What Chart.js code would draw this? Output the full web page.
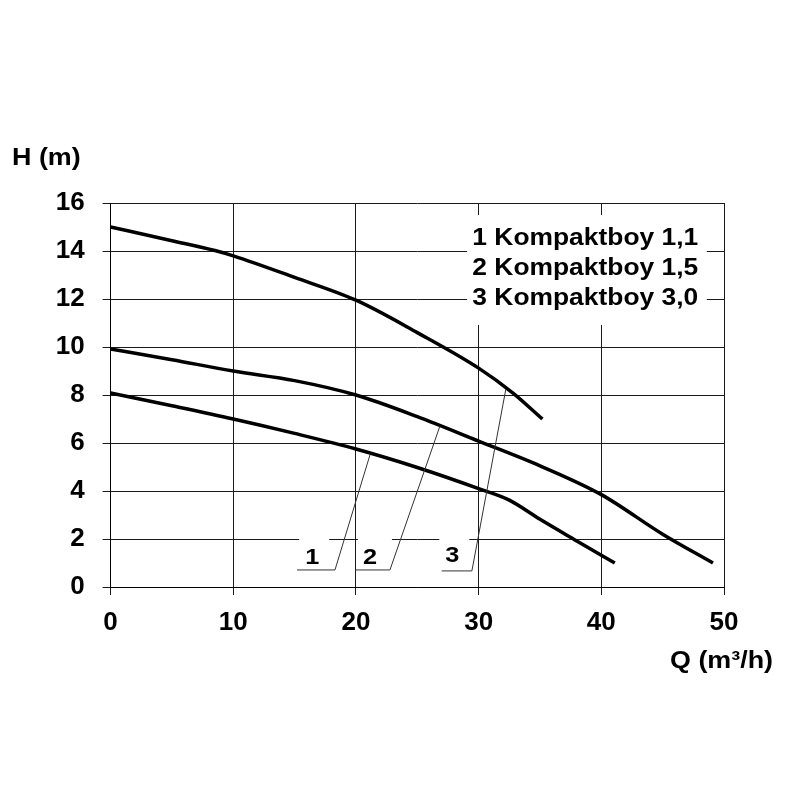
<!DOCTYPE html>
<html><head><meta charset="utf-8">
<script src="https://cdn.jsdelivr.net/npm/chart.js@4/dist/chart.umd.min.js"></script>
<style>html,body{margin:0;padding:0;background:#fff}canvas{display:block}</style>
</head><body>
<canvas id="c" width="800" height="800"></canvas>
<script>
// ---- data ----
const xTickValues = [0, 10, 20, 30, 40, 50];
const yTickValues = [0, 2, 4, 6, 8, 10, 12, 14, 16];
const seriesNames = ['1 Kompaktboy 1,1', '2 Kompaktboy 1,5', '3 Kompaktboy 3,0'];
const curveLabels = ['1', '2', '3'];
const xTitle = 'Q (m³/h)';
const yTitle = 'H (m)';

const q1 = [0, 5, 10, 15, 20, 25, 30, 32.5, 35, 38, 41.1];
const h1 = [8.08, 7.55, 7.0, 6.4, 5.75, 4.98, 4.1, 3.62, 2.82, 1.92, 1.0];

const q2 = [0, 5, 10, 15, 20, 25, 30, 35, 40, 45, 49.1];
const h2 = [9.92, 9.47, 9.0, 8.6, 8.0, 7.1, 6.08, 5.05, 3.85, 2.2, 1.0];

const q3 = [0, 5, 8.5, 10, 15, 20, 25, 30, 32.8, 35.2];
const h3 = [15.0, 14.43, 14.02, 13.8, 12.9, 11.95, 10.6, 9.12, 8.08, 7.0];

// ---- annotation anchors (data coordinates) ----
const legendBox = { q0: 29.06, q1: 48.6, h0: 15.5, h1: 10.92, textQ: 47.9, baseH: [14.25, 13.0, 11.75] };
const labelQ = [16.43, 21.14, 27.85];
const labelBaseH = [0.96, 0.96, 1.04];
const leaderLeftQ = [15.19, 19.92, 26.99];
const leaderCornerQ = [18.29, 22.77, 29.45];
const leaderBaseH = [0.71, 0.71, 0.67];
const leaderTipQ = [21.14, 26.84, 32.22];
const leaderTipH = [5.5, 6.7, 8.25];

const toPts = (q, h) => q.map((v, i) => ({ x: v, y: h[i] }));
const FONT = "'Liberation Sans', Arial, sans-serif";

function stretchText(ctx, txt, x, y, align, sx) {
  ctx.save();
  ctx.translate(x, y);
  ctx.scale(sx, 1);
  ctx.textAlign = align;
  ctx.textBaseline = 'alphabetic';
  ctx.fillText(txt, 0, 0);
  ctx.restore();
}

const annotations = {
  id: 'annotations',
  afterDraw(chart) {
    const ctx = chart.ctx, xs = chart.scales.x, ys = chart.scales.y;
    const X = v => xs.getPixelForValue(v), Y = v => ys.getPixelForValue(v);
    ctx.save();
    // legend box
    ctx.fillStyle = '#fff';
    ctx.fillRect(X(legendBox.q0), Y(legendBox.h0), X(legendBox.q1) - X(legendBox.q0), Y(legendBox.h1) - Y(legendBox.h0));
    ctx.fillStyle = '#000';
    ctx.font = 'bold 24px ' + FONT;
    seriesNames.forEach((n, i) => stretchText(ctx, n, X(legendBox.textQ), Y(legendBox.baseH[i]), 'right', 1.1));
    // curve labels with leader lines
    ctx.font = 'bold 22px ' + FONT;
    curveLabels.forEach((t, i) => {
      const cx = X(labelQ[i]), by = Y(labelBaseH[i]);
      ctx.fillStyle = '#fff';
      ctx.fillRect(cx - 13 + (i === 1 ? 1 : 0), by - 29, 30 + (i === 1 ? 4 : 0), 33);
      ctx.strokeStyle = '#333';
      ctx.lineWidth = 1;
      ctx.beginPath();
      ctx.moveTo(X(leaderLeftQ[i]), Y(leaderBaseH[i]));
      ctx.lineTo(X(leaderCornerQ[i]), Y(leaderBaseH[i]));
      ctx.lineTo(X(leaderTipQ[i]), Y(leaderTipH[i]));
      ctx.stroke();
      ctx.fillStyle = '#000';
      stretchText(ctx, t, cx, by, 'center', 1.15);
    });
    // axis titles
    ctx.font = 'bold 24px ' + FONT;
    stretchText(ctx, yTitle, 12, 165, 'left', 1.12);
    stretchText(ctx, xTitle, 670, 668, 'left', 1.12);
    ctx.restore();
  }
};

const lineStyle = { borderColor: '#000', borderWidth: 3.5, pointRadius: 0, fill: false, cubicInterpolationMode: 'monotone' };

new Chart(document.getElementById('c'), {
  type: 'line',
  data: {
    datasets: [
      { label: seriesNames[0], data: toPts(q1, h1), ...lineStyle },
      { label: seriesNames[1], data: toPts(q2, h2), ...lineStyle },
      { label: seriesNames[2], data: toPts(q3, h3), ...lineStyle }
    ]
  },
  options: {
    responsive: false,
    animation: false,
    devicePixelRatio: 1,
    layout: { padding: { top: 203, right: 76, left: 0, bottom: 0 } },
    plugins: { legend: { display: false }, tooltip: { enabled: false } },
    scales: {
      x: {
        type: 'linear', min: 0, max: 50,
        afterBuildTicks: s => { s.ticks = xTickValues.map(v => ({ value: v })); },
        afterFit: s => { s.height = 213; },
        ticks: { color: '#000', padding: 12, font: { family: FONT, size: 26, weight: 'bold' }, maxRotation: 0 },
        grid: { color: '#1a1a1a', lineWidth: 1, tickLength: 8 },
        border: { color: '#000', width: 1 }
      },
      y: {
        type: 'linear', min: 0, max: 16,
        afterBuildTicks: s => { s.ticks = yTickValues.map(v => ({ value: v })); },
        afterFit: s => { s.width = 110.6; },
        ticks: { color: '#000', padding: 18, font: { family: FONT, size: 26, weight: 'bold' } },
        grid: { color: '#1a1a1a', lineWidth: 1, tickLength: 8 },
        border: { color: '#000', width: 1 }
      }
    }
  },
  plugins: [annotations]
});
</script>
</body></html>
